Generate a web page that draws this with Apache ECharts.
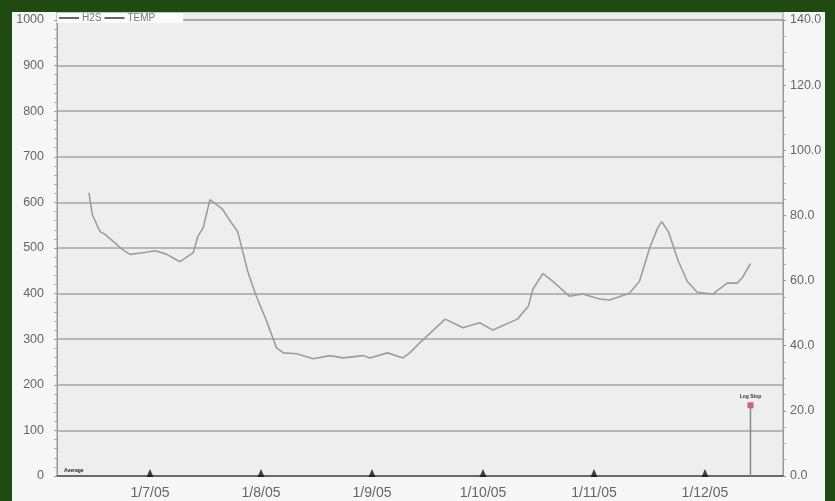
<!DOCTYPE html>
<html><head><meta charset="utf-8">
<script src="https://cdn.jsdelivr.net/npm/echarts@6/dist/echarts.min.js"></script>
<style>html,body{margin:0;padding:0;background:#f6f6f6}#c{width:835px;height:501px}</style>
</head><body><div id="c"></div>
<script>
// Month tick positions (x unit = one month, 0 = 1/7/05) and their labels
const monthLabels = ['1/7/05','1/8/05','1/9/05','1/10/05','1/11/05','1/12/05'];
const monthPos = [0, 1, 2, 3, 4, 5];
// Line series (H2S, left axis): x position in months, value
const linePos = [-0.55,-0.52,-0.45,-0.40,-0.33,-0.25,-0.18,-0.05,0.05,0.15,0.27,0.39,0.43,0.48,0.54,0.59,0.65,0.74,0.79,0.88,0.95,1.05,1.14,1.20,1.32,1.47,1.62,1.74,1.92,1.98,2.14,2.28,2.34,2.43,2.66,2.82,2.97,3.09,3.31,3.41,3.45,3.54,3.63,3.78,3.90,4.05,4.14,4.32,4.41,4.50,4.57,4.61,4.67,4.76,4.84,4.93,5.07,5.20,5.29,5.34,5.41];
const lineVals = [621,573,536,529,514,497,486,490,494,486,470,490,525,545,606,597,586,553,536,449,399,340,281,270,268,257,264,259,264,259,270,259,270,292,344,325,336,320,344,373,410,444,427,394,399,388,386,401,427,499,542,558,536,471,427,403,399,423,423,436,466];
// Log stop event
const logStopPos = 5.41;
const logStopVal = 155;
// Axis ranges
const leftMax = 1000, leftStep = 100;
const rightMax = 140, rightStep = 20;

const chart = echarts.init(document.getElementById('c'));
const green = '#1f4a12';
chart.setOption({
  backgroundColor: '#f6f6f6',
  animation: false,
  grid: {left: 57, right: 52, top: 20, bottom: 25, show: true, backgroundColor: '#eeeeee', borderColor: '#9a9a9a', borderWidth: 1},
  legend: {
    left: 57, top: 13, itemWidth: 20, itemHeight: 2, itemGap: 3,
    backgroundColor: '#fbfbfb', padding: [0, 28, 0, 2],
    textStyle: {fontSize: 10, lineHeight: 10, color: '#777', fontFamily: 'Liberation Sans', padding: [0,0,0,-2]},
    data: [{name: 'H2S', icon: 'rect'}, {name: 'TEMP', icon: 'rect'}]
  },
  xAxis: {
    type: 'value', min: -0.838, max: 5.703,
    axisLine: {onZero: false, lineStyle: {color: '#555', width: 1.5}},
    axisTick: {show: false},
    splitLine: {show: false},
    axisLabel: {customValues: monthPos, formatter: v => monthLabels[Math.round(v)], color: '#666', fontSize: 14, fontFamily: 'Liberation Sans', margin: 10}
  },
  yAxis: [
    {type: 'value', min: 0, max: leftMax, interval: leftStep,
     axisLine: {show: true, onZero: false, lineStyle: {color: '#999'}},
     axisTick: {show: true, length: 3, lineStyle: {color: '#999'}},
     minorTick: {show: true, splitNumber: 5, length: 3, lineStyle: {color: '#aaa'}},
     splitLine: {lineStyle: {color: '#a5a5a5', width: 1.5}},
     axisLabel: {color: '#666', fontSize: 12.5, fontFamily: 'Liberation Sans', margin: 13, formatter: v => String(v)}},
    {type: 'value', min: 0, max: rightMax, interval: rightStep, position: 'right',
     axisLine: {show: true, onZero: false, lineStyle: {color: '#999'}},
     axisTick: {show: true, length: 3, lineStyle: {color: '#999'}},
     minorTick: {show: true, splitNumber: 4, length: 3, lineStyle: {color: '#aaa'}},
     splitLine: {show: false},
     axisLabel: {color: '#666', fontSize: 12.5, fontFamily: 'Liberation Sans', margin: 7, formatter: v => v.toFixed(1)}}
  ],
  series: [
    {name: 'H2S', type: 'line', yAxisIndex: 0, symbol: 'none', color: '#666',
     lineStyle: {color: '#9c9f98', width: 1.6},
     itemStyle: {color: '#666'},
     data: linePos.map((p, i) => [p, lineVals[i]])},
    {name: 'TEMP', type: 'line', yAxisIndex: 1, symbol: 'none', itemStyle: {color: '#666'}, lineStyle: {color: '#666'}, data: []},
    {type: 'scatter', symbol: 'triangle', symbolSize: [7, 8], symbolOffset: [0, -3], clip: false,
     itemStyle: {color: '#111'}, data: monthPos.map(p => [p, 0]), silent: true},
    {type: 'line', symbol: 'none', lineStyle: {color: '#888', width: 1.5},
     data: [[logStopPos, 0], [logStopPos, logStopVal]]},
    {type: 'scatter', symbol: 'rect', symbolSize: 6, itemStyle: {color: '#d23a4a'},
     label: {show: true, position: 'top', formatter: 'Log Stop', fontSize: 5, fontWeight: 'bold', color: '#000', distance: 3},
     data: [[logStopPos, logStopVal]]}
  ],
  graphic: [
    {type: 'rect', shape: {x: 57, y: 12, width: 726, height: 8}, style: {fill: '#eeeeee', stroke: '#9a9a9a', lineWidth: 1}, z: -1},
    {type: 'text', left: 64, top: 468, style: {text: 'Average', fontSize: 5, fontWeight: 'bold', fill: '#222'}, z: 10},
    {type: 'rect', shape: {x: 0, y: 0, width: 835, height: 12}, style: {fill: green}, z: 100},
    {type: 'rect', shape: {x: 0, y: 0, width: 12, height: 501}, style: {fill: green}, z: 100},
    {type: 'rect', shape: {x: 825, y: 0, width: 10, height: 501}, style: {fill: green}, z: 100}
  ]
});
</script>
</body></html>
